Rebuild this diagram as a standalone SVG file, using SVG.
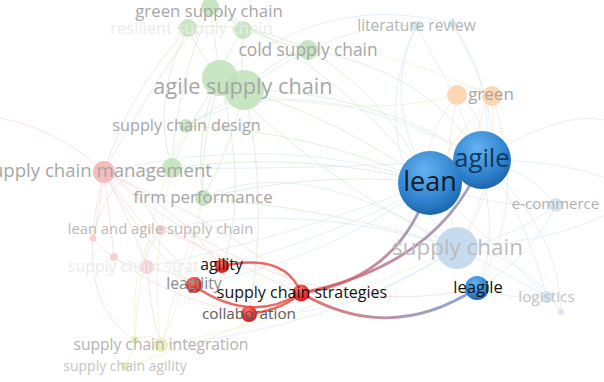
<svg xmlns="http://www.w3.org/2000/svg" width="604" height="382" viewBox="0 0 604 382">
<style>
text{font-family:"Open Sans","Noto Sans","DejaVu Sans",sans-serif;text-anchor:middle}
.e{fill:none;stroke-width:1;stroke-opacity:0.6}
.eg{stroke:#c9e8c4}
.eb{stroke:#d2e5f4}
.er{stroke:#f5d0d0}
.eo{stroke:#fadcc6}
.ey{stroke:#eaf0c4}
.hr{fill:none;stroke:#e85a52;stroke-width:2.6;stroke-opacity:0.9}
.hg{fill:none;stroke-width:2.8;stroke-opacity:0.85}
.ng{fill:#bfe2b8;fill-opacity:0.85}
.np{fill:#f5bcbc}
.npf{fill:#f7d2d2}
.ny{fill:#eaf0bc}
.no{fill:#fdd6b4}
.nc{fill:#c8edf4}
.nlb{fill:#c6dbee}
.nlb2{fill:#d5e5f3}
.nb{fill:url(#bg)}
.nr{fill:url(#rg)}
.lg{fill:#a6a6a6}
.lf{fill:#ebebeb}
.lk{fill:#111}
</style>
<defs>
<radialGradient id="bg" cx="0.42" cy="0.3" r="0.8">
<stop offset="0" stop-color="#66b2f1"/>
<stop offset="0.6" stop-color="#2f83cf"/>
<stop offset="1" stop-color="#15599e"/>
</radialGradient>
<radialGradient id="rg" cx="0.4" cy="0.3" r="0.85">
<stop offset="0" stop-color="#ff7a6e"/>
<stop offset="0.5" stop-color="#f03030"/>
<stop offset="1" stop-color="#c81818"/>
</radialGradient>
<linearGradient id="gl" gradientUnits="userSpaceOnUse" x1="301" y1="293" x2="430" y2="183">
<stop offset="0" stop-color="#e35550"/>
<stop offset="0.5" stop-color="#b77b92"/>
<stop offset="1" stop-color="#7f9acb"/>
</linearGradient>
<linearGradient id="ga" gradientUnits="userSpaceOnUse" x1="301" y1="293" x2="482" y2="160">
<stop offset="0" stop-color="#e35550"/>
<stop offset="0.45" stop-color="#b77b92"/>
<stop offset="1" stop-color="#7f9acb"/>
</linearGradient>
<linearGradient id="gb" gradientUnits="userSpaceOnUse" x1="301" y1="293" x2="477" y2="288">
<stop offset="0" stop-color="#e35550"/>
<stop offset="0.5" stop-color="#ae7f9c"/>
<stop offset="1" stop-color="#6f9bd6"/>
</linearGradient>
</defs>
<rect width="604" height="382" fill="#fff"/>
<g id="connectors">
<g id="background-links">
<path class="e eg" d="M220,78 Q215,40 210,7"/>
<path class="e eg" d="M188,28 Q200,55 220,78"/>
<path class="e eg" d="M243,29 Q240,60 244,90"/>
<path class="e eg" d="M308,50 Q270,60 244,90"/>
<path class="e eg" d="M210,7 Q260,40 308,50"/>
<path class="e eg" d="M188,28 Q250,20 308,50"/>
<path class="e eg" d="M244,90 Q215,110 186,126"/>
<path class="e eg" d="M220,78 Q190,120 172,168"/>
<path class="e eg" d="M244,90 Q230,150 203,198"/>
<path class="e eg" d="M210,7 Q175,90 172,168"/>
<path class="e eg" d="M243,29 Q190,110 203,198"/>
<path class="e eg" d="M188,28 Q150,100 172,168"/>
<path class="e eg" d="M220,78 Q200,140 203,198"/>
<path class="e eg" d="M244,90 Q340,120 430,183"/>
<path class="e eg" d="M244,90 Q370,90 482,160"/>
<path class="e eg" d="M220,78 Q320,180 457,248"/>
<path class="e eg" d="M308,50 Q380,90 430,183"/>
<path class="e eg" d="M308,50 Q430,70 482,160"/>
<path class="e eg" d="M210,7 Q330,60 430,183"/>
<path class="e eg" d="M186,126 Q310,130 430,183"/>
<path class="e eg" d="M172,168 Q300,150 430,183"/>
<path class="e eg" d="M203,198 Q320,170 430,183"/>
<path class="e eg" d="M203,198 Q340,210 457,248"/>
<path class="e eg" d="M244,90 Q270,200 249,314"/>
<path class="e eg" d="M220,78 Q250,200 222,266"/>
<path class="e ey" d="M172,168 Q150,260 161,345"/>
<path class="e ey" d="M203,198 Q190,280 161,345"/>
<path class="e ey" d="M186,126 Q140,230 135,340"/>
<path class="e eb" d="M416,26 Q380,100 430,183"/>
<path class="e eb" d="M416,26 Q360,150 457,248"/>
<path class="e eb" d="M452,24 Q500,90 482,160"/>
<path class="e eb" d="M452,24 Q530,150 457,248"/>
<path class="e eb" d="M416,26 Q340,20 244,90"/>
<path class="e eb" d="M452,24 Q330,-10 220,78"/>
<path class="e eb" d="M416,26 Q520,200 477,288"/>
<path class="e eb" d="M556,205 Q530,170 482,160"/>
<path class="e eb" d="M556,205 Q500,210 430,183"/>
<path class="e eb" d="M556,205 Q510,240 457,248"/>
<path class="e eb" d="M556,205 Q530,260 477,288"/>
<path class="e eb" d="M547,297 Q500,250 430,183"/>
<path class="e eb" d="M547,297 Q520,200 482,160"/>
<path class="e eb" d="M547,297 Q500,270 457,248"/>
<path class="e eb" d="M547,297 Q510,300 477,288"/>
<path class="e eb" d="M561,312 Q520,250 457,248"/>
<path class="e eb" d="M561,312 Q560,230 482,160"/>
<path class="e eb" d="M457,248 Q560,240 604,215"/>
<path class="e eb" d="M482,160 Q560,160 604,178"/>
<path class="e eb" d="M482,160 Q560,110 604,120"/>
<path class="e eb" d="M104,172 Q280,130 430,183"/>
<path class="e eb" d="M457,248 Q300,200 161,229"/>
<path class="e eb" d="M457,248 Q350,320 249,314"/>
<path class="e eb" d="M430,183 Q330,260 193,285"/>
<path class="e eb" d="M482,160 Q330,240 222,266"/>
<path class="e eb" d="M457,248 Q330,330 161,345"/>
<path class="e eb" d="M430,183 Q280,240 147,267"/>
<path class="e eb" d="M482,160 Q300,60 186,126"/>
<path class="e eb" d="M482,160 Q300,170 172,168"/>
<path class="e eb" d="M457,248 Q300,150 203,198"/>
<path class="e eo" d="M457,95 Q420,140 430,183"/>
<path class="e eo" d="M492,96 Q470,130 482,160"/>
<path class="e eo" d="M457,95 Q490,120 482,160"/>
<path class="e eo" d="M492,96 Q450,140 430,183"/>
<path class="e eo" d="M457,95 Q440,180 457,248"/>
<path class="e eo" d="M492,96 Q500,180 457,248"/>
<path class="e ey" d="M457,95 Q360,120 244,90"/>
<path class="e ey" d="M492,96 Q370,40 308,50"/>
<path class="e eo" d="M457,95 Q470,80 492,96"/>
<path class="e eo" d="M492,96 Q530,200 477,288"/>
<path class="e er" d="M104,172 Q100,210 93,238"/>
<path class="e er" d="M104,172 Q110,220 114,257"/>
<path class="e er" d="M104,172 Q130,220 147,267"/>
<path class="e er" d="M104,172 Q140,190 161,229"/>
<path class="e er" d="M104,172 Q170,200 222,266"/>
<path class="e er" d="M104,172 Q140,240 193,285"/>
<path class="e er" d="M104,172 Q170,270 249,314"/>
<path class="e er" d="M104,172 Q160,70 210,7"/>
<path class="e er" d="M104,172 Q130,90 188,28"/>
<path class="e er" d="M0,118 Q60,130 104,172"/>
<path class="e er" d="M104,172 Q70,300 135,340"/>
<path class="e er" d="M161,229 Q140,260 147,267"/>
<path class="e er" d="M93,238 Q120,270 147,267"/>
<path class="e er" d="M147,267 Q150,310 161,345"/>
<path class="e er" d="M147,267 Q185,275 193,285"/>
<path class="e er" d="M161,229 Q200,240 222,266"/>
<path class="e er" d="M161,229 Q250,270 301,293"/>
<path class="e er" d="M104,172 Q240,230 301,293"/>
<path class="e er" d="M114,257 Q170,300 249,314"/>
<path class="e er" d="M104,172 Q300,330 477,288"/>
<path class="e er" d="M93,238 Q110,160 172,168"/>
<path class="e ey" d="M135,340 Q150,330 161,345"/>
<path class="e ey" d="M125,366 Q135,350 135,340"/>
<path class="e ey" d="M125,366 Q150,365 161,345"/>
<path class="e ey" d="M161,345 Q180,270 203,198"/>
<path class="e ey" d="M135,340 Q130,250 161,229"/>
<path class="e ey" d="M161,345 Q300,320 457,248"/>
<path class="e ey" d="M125,366 Q250,330 301,293"/>
</g>
<g id="focus-links">
<path class="hr" d="M222,266 Q285,252 301,293"/>
<path class="hr" d="M193,285 Q250,325 301,293"/>
<path class="hr" d="M249,314 Q282,310 301,293"/>
<path class="hg" stroke="url(#gl)" d="M301,293 Q400,280 430,183"/>
<path class="hg" stroke="url(#ga)" d="M301,293 Q440,265 482,160"/>
<path class="hg" stroke="url(#gb)" d="M301,293 Q390,345 477,288"/>
</g>
</g>
<g id="node-green-supply-chain"><circle class="ng" cx="210" cy="7" r="9"/></g>
<g id="node-resilient-supply-chain"><circle class="ng" cx="188" cy="28" r="9"/><circle class="ng" cx="243" cy="30" r="9"/></g>
<g id="node-cold-supply-chain"><circle class="ng" cx="308" cy="50" r="10"/></g>
<g id="node-agile-supply-chain"><circle class="ng" cx="220" cy="78" r="18"/><circle class="ng" cx="244" cy="90" r="20"/></g>
<g id="node-supply-chain-design"><circle class="ng" cx="186" cy="126" r="7"/></g>
<g id="node-firm-performance"><circle class="ng" cx="172" cy="168" r="10"/><circle class="ng" cx="203" cy="198" r="8"/></g>
<g id="node-supply-chain-management"><circle class="np" cx="104" cy="172" r="11"/></g>
<g id="node-lean-and-agile-supply-chain"><circle class="npf" cx="161" cy="230" r="5"/><circle class="npf" cx="93" cy="238" r="3.5"/></g>
<g id="node-supply-chain-strat-faint"><circle class="npf" cx="114" cy="257" r="4"/><circle class="npf" cx="147" cy="267" r="7"/></g>
<g id="node-supply-chain-integration"><circle class="ny" cx="135" cy="340" r="4"/><circle class="ny" cx="161" cy="345" r="7"/></g>
<g id="node-supply-chain-agility"><circle class="ny" cx="125" cy="366" r="4"/></g>
<g id="node-literature-review"><circle class="nc" cx="416" cy="26" r="5"/><circle class="nc" cx="452" cy="24" r="4"/></g>
<g id="node-green"><circle class="no" cx="457" cy="95" r="10"/><circle class="no" cx="492" cy="96" r="10"/></g>
<g id="node-e-commerce"><circle class="nlb2" cx="556" cy="205" r="7"/></g>
<g id="node-logistics"><circle class="nlb2" cx="547" cy="297" r="6"/><circle class="nlb2" cx="561" cy="312" r="3"/></g>
<g id="node-supply-chain"><circle class="nlb" cx="457" cy="248" r="21"/></g>
<g id="labels-faint">
<text class="lg" x="209" y="17" font-size="16.8">green supply chain</text>
<text class="lf" x="191.5" y="34" font-size="16.5">resilient supply chain</text>
<text class="lg" x="308" y="56" font-size="17.3">cold supply chain</text>
<text class="lg" x="243" y="94" font-size="21.7">agile supply chain</text>
<text class="lg" x="186.5" y="131" font-size="16.2">supply chain design</text>
<text class="lg" x="212" y="177" font-size="18.6" style="text-anchor:end">supply chain management</text>
<text class="lg" x="203" y="203" font-size="16.9">firm performance</text>
<text fill="#b9b9b9" x="160.5" y="234" font-size="14.8">lean and agile supply chain</text>
<text class="lf" x="68" y="272" font-size="15.8" style="text-anchor:start">supply chain strat</text>
<text fill="#b3b3b3" x="161" y="350" font-size="15.6">supply chain integration</text>
<text fill="#c4c4c4" x="125" y="371" font-size="14">supply chain agility</text>
<text fill="#b4b4b4" x="416.5" y="31" font-size="15.5">literature review</text>
<text class="lg" x="491" y="100" font-size="17">green</text>
<text fill="#b0b0b0" x="555.5" y="209" font-size="15">e-commerce</text>
<text fill="#c2c2c2" x="546.5" y="302" font-size="15.3">logistics</text>
<text fill="#bcbcbc" x="457.5" y="255" font-size="22.4">supply chain</text>
</g>
<g id="node-agile"><circle class="nb" cx="482" cy="160" r="29"/></g>
<g id="node-lean"><circle class="nb" cx="430" cy="183" r="32"/></g>
<g id="node-leagile"><circle class="nb" cx="477" cy="288" r="12"/></g>
<g id="node-agility"><circle class="nr" cx="222" cy="266" r="7"/></g>
<g id="node-leagility"><circle class="nr" cx="194" cy="285" r="8"/></g>
<g id="node-collaboration"><circle class="nr" cx="249" cy="314" r="8"/></g>
<g id="node-supply-chain-strategies"><circle class="nr" cx="301" cy="293" r="8.5"/></g>
<g id="labels-focus">
<text fill="#0f3a63" x="482" y="167" font-size="25.6">agile</text>
<text fill="#0c1a2a" x="430" y="191" font-size="27">lean</text>
<text class="lk" x="478" y="293" font-size="16.6">leagile</text>
<text class="lk" x="221.5" y="270" font-size="15.7">agility</text>
<text fill="#8a8a8a" x="194" y="289" font-size="15.7">leagility</text>
<text fill="#5c5c5c" x="249" y="319" font-size="15.3">collaboration</text>
<text class="lk" x="302" y="298" font-size="16">supply chain strategies</text>
</g>
</svg>
